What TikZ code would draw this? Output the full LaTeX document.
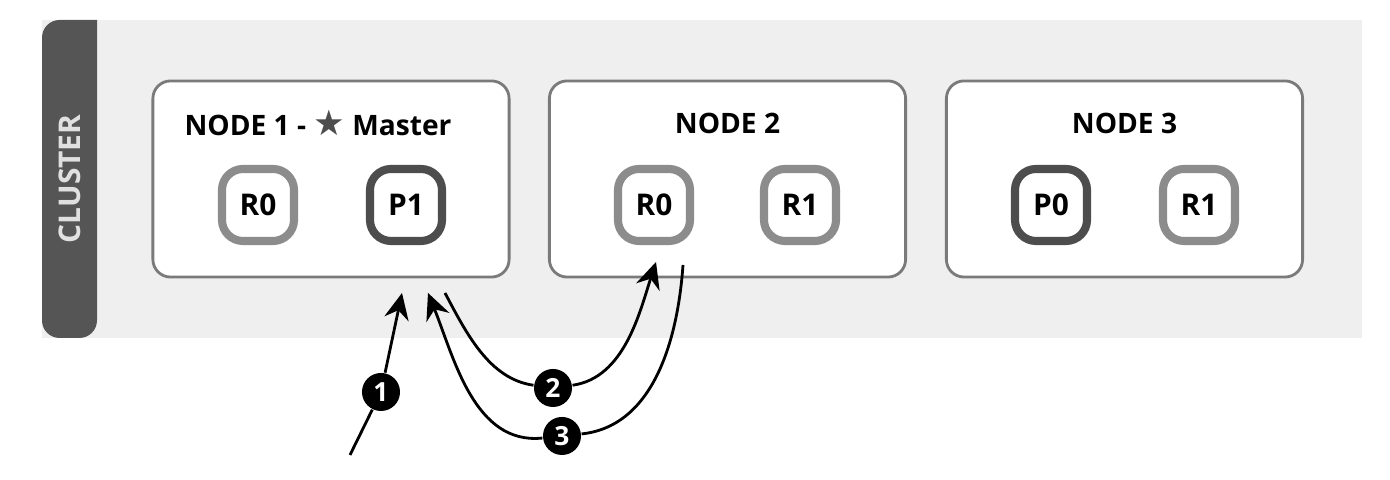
\documentclass[tikz,border=0pt]{standalone}
\usepackage{fontspec}
\setmainfont{Open Sans}
\newfontfamily\symfont{DejaVu Sans}
\usepackage{tikz}
\usetikzlibrary{positioning,arrows.meta}

\definecolor{clusterbg}{HTML}{EFEFEF}
\definecolor{clusterbar}{HTML}{555555}
\definecolor{boxline}{HTML}{7A7A7A}
\definecolor{replica}{HTML}{8C8C8C}
\definecolor{primary}{HTML}{4D4D4D}

\begin{document}
\begin{tikzpicture}[
  x=0.01cm, y=0.01cm,
  esnode/.style={draw=boxline, line width=0.8pt, fill=white, rounded corners=5pt,
    minimum width=3.56cm, minimum height=1.96cm, inner sep=0pt},
  title/.style={font=\fontsize{8}{9}\selectfont\bfseries},
  shard/.style={fill=white, line width=2.3pt, rounded corners=6pt, minimum size=0.72cm,
    inner sep=0pt, font=\fontsize{8.5}{9}\selectfont\bfseries},
  rep/.style={shard, draw=replica},
  pri/.style={shard, draw=primary},
  num/.style={circle, fill=black, text=white, minimum size=0.38cm, inner sep=0pt,
    font=\fontsize{7.5}{8}\selectfont\bfseries},
  arr/.style={line width=0.8pt, -{Stealth[length=7.5pt,width=7pt,inset=2.5pt]}},
  ln/.style={line width=0.8pt}
]
\useasboundingbox (0,0) rectangle (1390,480);
% Cluster
\fill[clusterbg] (42,142) rectangle (1362,460);
\fill[clusterbar, rounded corners=5pt] (97,460) -- (42,460) -- (42,142) -- (97,142) [sharp corners] -- cycle;
\node[rotate=90, text=white!88!black, font=\fontsize{8.5}{9}\selectfont\bfseries] (clabel) at (70,301) {CLUSTER};
% Nodes
\node[esnode] (node1) at (331,301) {};
\node[esnode] (node2) at (727.5,301) {};
\node[esnode] (node3) at (1124.5,301) {};
\node[title] (t1) at (318,357) {NODE 1 - {\symfont\color{primary}\fontsize{10}{9}\selectfont ★} Master};
\node[title] (t2) at (727.5,357) {NODE 2};
\node[title] (t3) at (1124.5,357) {NODE 3};
% Shards
\node[rep] (n1r0) at (258,275) {R0};
\node[pri] (n1p1) at (406,275) {P1};
\node[rep] (n2r0) at (654,275) {R0};
\node[rep] (n2r1) at (800,275) {R1};
\node[pri] (n3p0) at (1051,275) {P0};
\node[rep] (n3r1) at (1199,275) {R1};
% Requests
\coordinate (s1) at (350,25);
\coordinate (e1) at (402,187);
\coordinate (s2) at (445,187);
\coordinate (e2) at (656,218);
\coordinate (s3) at (683,215);
\coordinate (e3) at (428,187);
\node[num] (c1) at (381,88) {1};
\node[num] (c2) at (553,92) {2};
\node[num] (c3) at (562,44) {3};
\draw[ln] (s1) -- (c1);
\draw[arr] (c1) -- (e1);
\draw[ln] (s2) to[out=-62, in=172, looseness=0.9] (c2);
\draw[arr] (c2) to[out=8, in=-108, looseness=0.9] (e2);
\draw[ln] (s3) to[out=-94, in=6, looseness=0.95] (c3);
\draw[arr] (c3) to[out=186, in=-68, looseness=0.95] (e3);
\end{tikzpicture}
\end{document}
